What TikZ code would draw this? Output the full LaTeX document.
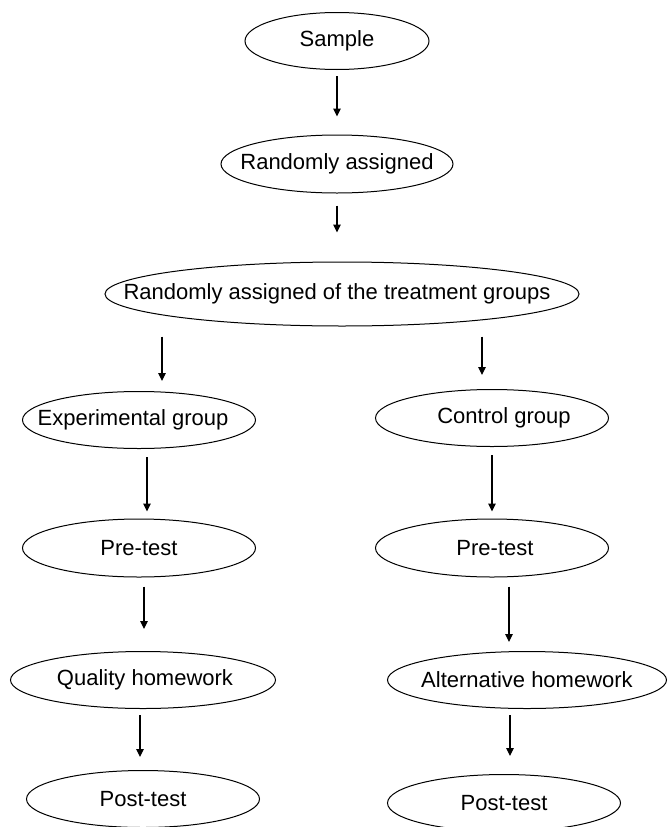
\documentclass[tikz,border=0pt]{standalone}
\usepackage{fontspec}
\setmainfont{Liberation Sans}
\usepackage{tikz}
\usetikzlibrary{arrows.meta}
\usetikzlibrary{shapes.geometric}
\usetikzlibrary{calc}
\tikzset{oval/.style = {draw, ellipse, line width = 1pt, inner sep = 0, minimum height = 57, font = \fontsize{22}{26}\selectfont}}
\tikzset{arr/.style = {line width = 1.2pt, -{Triangle[length = 8pt, width = 7.5pt]}}}
\newcommand{\ovaltext}[2][0pt]{\makebox[0pt]{\hspace*{#1}#2\hspace*{-#1}}}

\begin{document}
\begin{tikzpicture}[x = 1pt, y = -1pt]
      \useasboundingbox (0, 0) rectangle (668, 827);

      \node [oval, minimum width = 184] (sample) at (337, 41) {\ovaltext{Sample}};
      \node [oval, minimum width = 232, minimum height = 58] (rand) at (337, 164) {\ovaltext{Randomly assigned}};
      \node [oval, minimum width = 474, minimum height = 64] (treat) at (342, 294) {\ovaltext[-5pt]{Randomly assigned of the treatment groups}};

      \node [oval, minimum width = 233] (exp) at (139, 420) {\ovaltext[-6pt]{Experimental group}};
      \node [oval, minimum width = 233] (ctrl) at (492, 418) {\ovaltext[12pt]{Control group}};
      \node [oval, minimum width = 233, minimum height = 58] (preA) at (139, 548) {\ovaltext{Pre-test}};
      \node [oval, minimum width = 233, minimum height = 58] (preB) at (492, 548) {\ovaltext[3pt]{Pre-test}};
      \node [oval, minimum width = 265] (qual) at (143, 680) {\ovaltext[2pt]{Quality homework}};
      \node [oval, minimum width = 279] (alt) at (527, 680) {\ovaltext{Alternative homework}};
      \node [oval, minimum width = 233] (postA) at (143, 799) {\ovaltext{Post-test}};
      \node [oval, minimum width = 233] (postB) at (504, 803) {\ovaltext{Post-test}};

      \draw [arr, shorten <= 6, shorten >= 18] (sample.south) -- (rand.north);
      \draw [arr, shorten <= 12, shorten >= 29] (rand.south) -- (rand.south |- treat.north);
      \draw [arr, shorten <= 10, shorten >= 10] ($(exp.north |- treat.south) + (23, 0)$) -- ($(exp.north) + (23, 0)$);
      \draw [arr, shorten <= 10, shorten >= 14] ($(ctrl.north |- treat.south) + (-10, 0)$) -- ($(ctrl.north) + (-10, 0)$);
      \draw [arr, shorten <= 8, shorten >= 7] ($(exp.south) + (8, 0)$) -- ($(preA.north) + (8, 0)$);
      \draw [arr, shorten <= 8, shorten >= 7] (ctrl.south) -- (preB.north);
      \draw [arr, shorten <= 9, shorten >= 22] ($(preA.south) + (5, 0)$) -- ($(preA.south |- qual.north) + (5, 0)$);
      \draw [arr, shorten <= 9, shorten >= 9] ($(preB.south) + (17, 0)$) -- ($(preB.south |- alt.north) + (17, 0)$);
      \draw [arr, shorten <= 6, shorten >= 13] ($(qual.south) + (-3, 0)$) -- ($(qual.south |- postA.north) + (-3, 0)$);
      \draw [arr, shorten <= 6, shorten >= 18] ($(alt.south) + (-17, 0)$) -- ($(alt.south |- postB.north) + (-17, 0)$);
    \end{tikzpicture}
\end{document}
